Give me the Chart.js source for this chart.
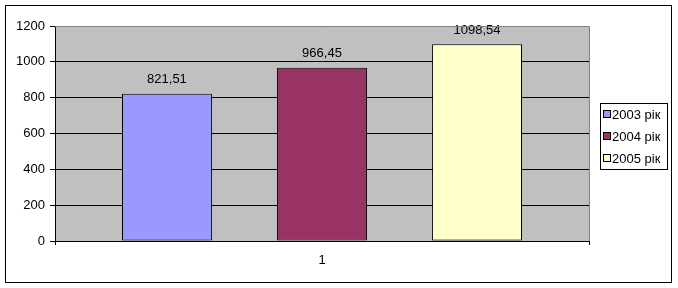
<!DOCTYPE html>
<html>
<head>
<meta charset="utf-8">
<script src="https://cdn.jsdelivr.net/npm/chart.js@4"></script>
<style>
  html, body { margin: 0; padding: 0; background: #fff; }
  #wrap { position: relative; width: 678px; height: 288px; }
</style>
</head>
<body>
<div id="wrap"><canvas id="chart" width="678" height="288"></canvas></div>
<script>
// chart values
const categories = ['1'];
const seriesNames = ['2003 рік', '2004 рік', '2005 рік'];
const seriesValues = [[821.51], [966.45], [1098.54]];
const seriesColors = ['#9999FF', '#993366', '#FFFFCC'];
const yTicks = [0, 200, 400, 600, 800, 1000, 1200];

const FONT = 'Liberation Sans, Arial, sans-serif';
const FSIZE = 13;

// gray plot area + outer frame
const frame = {
    id: 'frame',
    beforeDraw(chart) {
        const ctx = chart.ctx;
        const a = chart.chartArea;
        ctx.save();
        ctx.fillStyle = '#C0C0C0';
        ctx.fillRect(a.left, a.top, a.right - a.left, a.bottom - a.top);
        ctx.restore();
    },
    afterDraw(chart) {
        const ctx = chart.ctx;
        const a = chart.chartArea;
        ctx.save();
        ctx.strokeStyle = '#808080';
        ctx.lineWidth = 1;
        ctx.beginPath();
        ctx.moveTo(a.left, a.top + 0.5);
        ctx.lineTo(a.right + 0.5, a.top + 0.5);
        ctx.lineTo(a.right + 0.5, a.bottom);
        ctx.stroke();
        ctx.strokeStyle = '#000';
        ctx.strokeRect(5.5, 5.5, 666, 277);
        ctx.restore();
    }
};

// value labels above bars
const valueLabels = {
    id: 'valueLabels',
    afterDatasetsDraw(chart) {
        const ctx = chart.ctx;
        ctx.save();
        ctx.font = FSIZE + 'px ' + FONT;
        ctx.fillStyle = '#000';
        ctx.textAlign = 'center';
        ctx.textBaseline = 'middle';
        chart.data.datasets.forEach((ds, i) => {
            chart.getDatasetMeta(i).data.forEach((bar, j) => {
                const txt = ds.data[j].toFixed(2).replace('.', ',');
                ctx.fillText(txt, bar.x, bar.y - 14);
            });
        });
        ctx.restore();
    }
};

// boxed legend on the right
const boxLegend = {
    id: 'boxLegend',
    afterDraw(chart) {
        const ctx = chart.ctx;
        const left = 600, top = 103, w = 67, h = 66;
        ctx.save();
        ctx.fillStyle = '#fff';
        ctx.fillRect(left, top, w, h);
        ctx.strokeStyle = '#000';
        ctx.lineWidth = 1;
        ctx.strokeRect(left + 0.5, top + 0.5, w, h);
        ctx.font = FSIZE + 'px ' + FONT;
        ctx.textBaseline = 'middle';
        chart.data.datasets.forEach((ds, i) => {
            const cy = top + 11 + i * 22;
            ctx.fillStyle = ds.backgroundColor;
            ctx.fillRect(603, cy - 4, 7, 7);
            ctx.strokeStyle = '#000';
            ctx.strokeRect(603.5, cy - 3.5, 7, 7);
            ctx.fillStyle = '#000';
            ctx.fillText(ds.label, 612, cy + 1);
        });
        ctx.restore();
    }
};

const ctx = document.getElementById('chart').getContext('2d');
new Chart(ctx, {
    type: 'bar',
    data: {
        labels: categories,
        datasets: seriesNames.map((name, i) => ({
            label: name,
            data: seriesValues[i],
            backgroundColor: seriesColors[i],
            borderColor: '#000',
            borderWidth: 1,
            borderSkipped: false,
            categoryPercentage: 0.871,
            barPercentage: 0.58
        }))
    },
    options: {
        responsive: false,
        animation: false,
        events: [],
        layout: { padding: { left: 0, top: 26, right: 89, bottom: 0 } },
        plugins: {
            legend: { display: false },
            tooltip: { enabled: false }
        },
        scales: {
            x: {
                offset: true,
                grid: {
                    offset: true,
                    drawOnChartArea: false,
                    color: '#000',
                    tickLength: 4
                },
                border: { color: '#000' },
                ticks: { color: '#000', font: { family: FONT, size: FSIZE }, padding: 8 },
                afterFit(scale) { scale.height = 47; }
            },
            y: {
                min: 0,
                max: 1200,
                afterBuildTicks(scale) { scale.ticks = yTicks.map(v => ({ value: v })); },
                grid: { color: '#000', tickLength: 5 },
                border: { color: '#000' },
                ticks: {
                    color: '#000',
                    font: { family: FONT, size: FSIZE },
                    padding: 5,
                    callback: v => String(v)
                },
                afterFit(scale) { scale.width = 55; }
            }
        }
    },
    plugins: [frame, valueLabels, boxLegend]
});
</script>
</body>
</html>
